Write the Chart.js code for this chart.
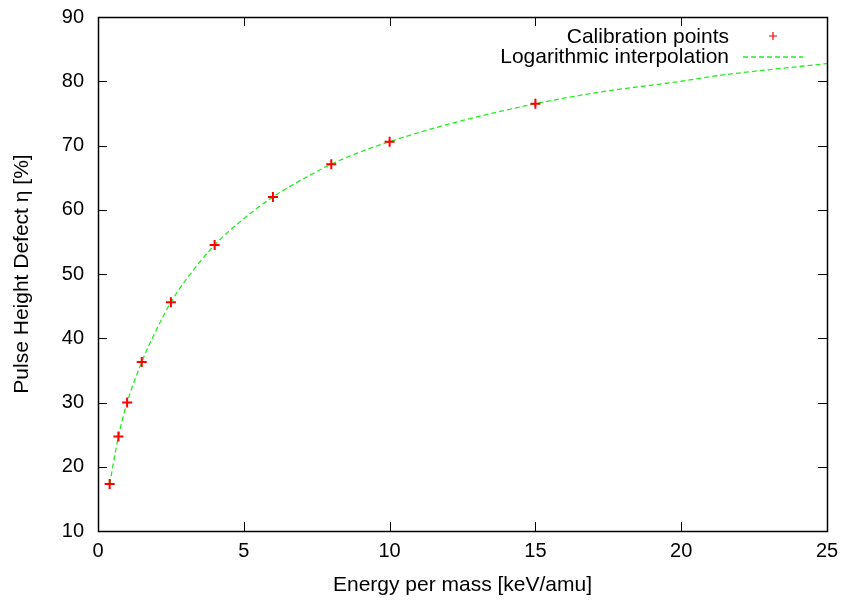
<!DOCTYPE html>
<html>
<head>
<meta charset="utf-8">
<script src="https://cdn.jsdelivr.net/npm/chart.js@4/dist/chart.umd.min.js"></script>
<style>
  html, body { margin: 0; padding: 0; background: #fff; }
  #wrap { width: 845px; height: 603px; }
</style>
</head>
<body>
<div id="wrap"><canvas id="phdChart" width="845" height="603"></canvas></div>
<script>
// calibration points
const calibEnergy = [0.4, 0.7, 1, 1.5, 2.5, 4, 6, 8, 10, 15];
const calibDefect = [17.3, 24.7, 30.0, 36.3, 45.6, 54.5, 62.0, 67.1, 70.6, 76.5];

// points picked along the dashed interpolation curve
const fitEnergy = [0.4, 0.7, 1, 1.5, 2, 2.5, 3, 4, 5, 6, 7, 8, 9, 10, 12, 15, 17.2, 20, 21.3, 25];
const fitDefect = [17.3, 24.7, 30.0, 36.3, 41.3, 45.6, 49.0, 54.5, 58.6, 62.0, 64.7, 67.1, 69.0, 70.6, 73.3, 76.5, 78.3, 80.0, 80.9, 82.75];

const xTickValues = [0, 5, 10, 15, 20, 25];
const yTickValues = [10, 20, 30, 40, 50, 60, 70, 80, 90];

const font = { family: "'Liberation Sans', Arial, sans-serif", size: 20 };
const titleFont = { family: "'Liberation Sans', Arial, sans-serif", size: 21 };
const keyFont = { family: "'Liberation Sans', Arial, sans-serif", size: 21 };

// gnuplot style box with inward ticks on all four sides
const framePlugin = {
  id: 'frame',
  afterDraw(chart) {
    const ctx = chart.ctx;
    const a = chart.chartArea;
    const xs = chart.scales.x, ys = chart.scales.y;
    ctx.save();
    ctx.strokeStyle = '#000';
    ctx.lineWidth = 1;
    ctx.beginPath();
    xs.ticks.forEach(t => {
      const px = Math.round(xs.getPixelForValue(t.value)) + 0.5;
      ctx.moveTo(px, a.bottom); ctx.lineTo(px, a.bottom - 9);
      ctx.moveTo(px, a.top); ctx.lineTo(px, a.top + 9);
    });
    ys.ticks.forEach(t => {
      const py = Math.round(ys.getPixelForValue(t.value)) + 0.5;
      ctx.moveTo(a.left, py); ctx.lineTo(a.left + 9, py);
      ctx.moveTo(a.right, py); ctx.lineTo(a.right - 9, py);
    });
    ctx.stroke();
    ctx.lineWidth = 1.5;
    ctx.strokeRect(Math.round(a.left) + 0.5, Math.round(a.top) + 0.5,
      Math.round(a.right - a.left), Math.round(a.bottom - a.top));
    ctx.restore();
  }
};

// key in the top right corner, text right aligned before the sample
const keyPlugin = {
  id: 'key',
  afterDraw(chart) {
    const ctx = chart.ctx;
    const a = chart.chartArea;
    const ds = chart.data.datasets;
    ctx.save();
    ctx.font = keyFont.size + 'px ' + keyFont.family;
    ctx.fillStyle = '#000';
    ctx.textAlign = 'right';
    ctx.textBaseline = 'middle';
    const tx = a.right - 98;
    ctx.fillText(ds[0].label, tx, a.top + 20);
    ctx.fillText(ds[1].label, tx, a.top + 40);

    const mx = a.right - 54, my = a.top + 19;
    ctx.strokeStyle = ds[0].borderColor;
    ctx.lineWidth = 1.2;
    ctx.beginPath();
    ctx.moveTo(mx - 4, my); ctx.lineTo(mx + 4, my);
    ctx.moveTo(mx, my - 4); ctx.lineTo(mx, my + 4);
    ctx.stroke();

    ctx.strokeStyle = ds[1].borderColor;
    ctx.lineWidth = 1.6;
    ctx.setLineDash(ds[1].borderDash);
    ctx.beginPath();
    ctx.moveTo(a.right - 84, a.top + 40);
    ctx.lineTo(a.right - 24, a.top + 40);
    ctx.stroke();
    ctx.restore();
  }
};

const ctx = document.getElementById('phdChart').getContext('2d');
new Chart(ctx, {
  type: 'scatter',
  data: {
    datasets: [
      {
        label: 'Calibration points',
        data: calibEnergy.map((e, i) => ({ x: e, y: calibDefect[i] })),
        pointStyle: 'cross',
        pointRadius: 5,
        pointBorderWidth: 2,
        borderColor: '#ff0000',
        backgroundColor: '#ff0000',
        order: 0
      },
      {
        label: 'Logarithmic interpolation',
        data: fitEnergy.map((e, i) => ({ x: e, y: fitDefect[i] })),
        showLine: true,
        pointRadius: 0,
        borderColor: '#22ee22',
        borderWidth: 1.3,
        borderDash: [5, 3],
        cubicInterpolationMode: 'monotone',
        order: 1
      }
    ]
  },
  options: {
    responsive: false,
    animation: false,
    layout: { padding: { left: 0, top: 17, right: 18, bottom: 0 } },
    plugins: {
      legend: { display: false },
      tooltip: { enabled: false }
    },
    scales: {
      x: {
        type: 'linear',
        min: 0,
        max: 25,
        afterBuildTicks: s => { s.ticks = xTickValues.map(v => ({ value: v })); },
        afterFit: s => { s.height = 72; s.paddingLeft = 0; s.paddingRight = 0; },
        grid: { display: false, drawTicks: false },
        border: { display: false },
        ticks: { font: font, color: '#000', padding: 8, maxRotation: 0 },
        title: {
          display: true,
          text: 'Energy per mass [keV/amu]',
          font: titleFont,
          color: '#000',
          padding: { top: 0, bottom: 5 }
        }
      },
      y: {
        type: 'linear',
        min: 10,
        max: 90,
        afterBuildTicks: s => { s.ticks = yTickValues.map(v => ({ value: v })); },
        afterFit: s => { s.width = 98; s.paddingTop = 0; s.paddingBottom = 0; },
        grid: { display: false, drawTicks: false },
        border: { display: false },
        ticks: { font: font, color: '#000', padding: 14 },
        title: {
          display: true,
          text: 'Pulse Height Defect η [%]',
          font: titleFont,
          color: '#000',
          padding: { top: 10, bottom: 0 }
        }
      }
    }
  },
  plugins: [framePlugin, keyPlugin]
});
</script>
</body>
</html>
